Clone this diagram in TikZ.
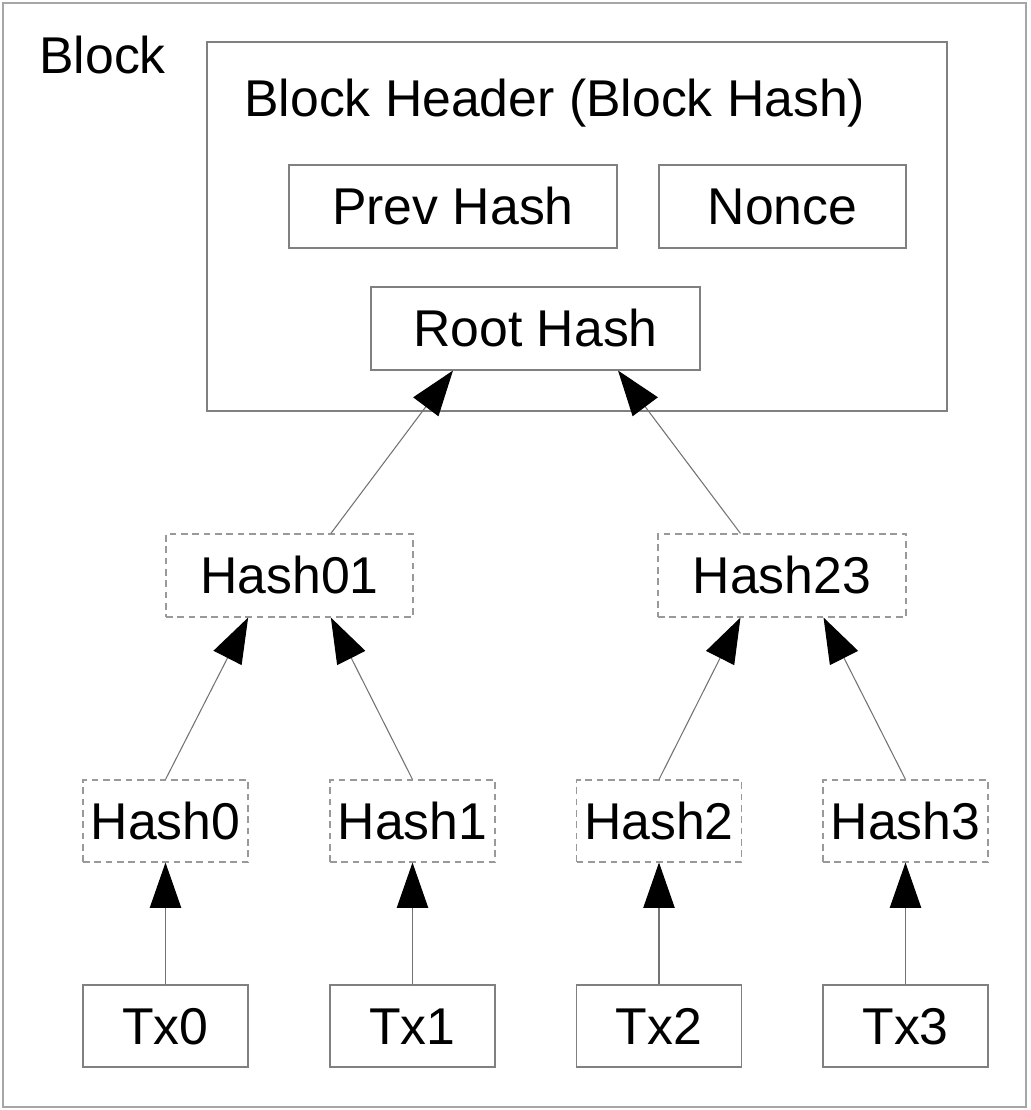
\documentclass[tikz,border=0pt]{standalone}
\usepackage{fontspec}
\setmainfont{Liberation Sans}
\usetikzlibrary{arrows.meta,calc}
\begin{document}
\begin{tikzpicture}[x=0.75pt,y=-0.75pt,
  lbl/.style={font=\fontsize{38.8}{40}\selectfont, text=black, text height=27.5pt, text depth=0pt, inner sep=0pt},
  solidbox/.style={lbl, draw=black!50, line width=0.8pt, rectangle},
  dashbox/.style={lbl, draw=black!40, line width=0.8pt, dash pattern=on 5pt off 3.5pt, rectangle},
  arr/.style={draw=black!55, line width=0.8pt, -{Triangle[length=34pt,width=23.5pt,color=black]}, shorten >=0pt}
]
\useasboundingbox (0,0) rectangle (1031,1110);
% outer block frame
\node[draw=black!35, line width=1.1pt, minimum width=1023*0.75pt, minimum height=1104*0.75pt, inner sep=0pt] (block) at (514.5,555) {};
\node[lbl, anchor=base west] (blocklbl) at (39,73) {Block};
% header
\node[draw=black!50, line width=0.8pt, minimum width=740*0.75pt, minimum height=369*0.75pt, inner sep=0pt] (header) at (577,226.5) {};
\node[lbl, anchor=base west] (headerlbl) at (244,116) {Block Header (Block Hash)};
\node[solidbox, minimum width=328*0.75pt, minimum height=83*0.75pt] (prev) at (453,206.5) {Prev Hash};
\node[solidbox, minimum width=247*0.75pt, minimum height=83*0.75pt] (nonce) at (782.5,206.5) {Nonce};
\node[solidbox, minimum width=329*0.75pt, minimum height=83*0.75pt] (root) at (535.5,328.5) {Root Hash};
% level 1
\node[dashbox, minimum width=247*0.75pt, minimum height=83*0.75pt] (h01) at (289.5,575.5) {Hash01};
\node[dashbox, minimum width=248*0.75pt, minimum height=83*0.75pt] (h23) at (782,575.5) {Hash23};
% level 2
\node[dashbox, minimum width=165*0.75pt, minimum height=82*0.75pt] (h0) at (165.5,821) {Hash0};
\node[dashbox, minimum width=165*0.75pt, minimum height=82*0.75pt] (h1) at (412.5,821) {Hash1};
\node[dashbox, minimum width=165*0.75pt, minimum height=82*0.75pt] (h2) at (659,821) {Hash2};
\node[dashbox, minimum width=165*0.75pt, minimum height=82*0.75pt] (h3) at (905.5,821) {Hash3};
% transactions
\node[solidbox, minimum width=165*0.75pt, minimum height=82*0.75pt] (tx0) at (165.5,1026) {Tx0};
\node[solidbox, minimum width=165*0.75pt, minimum height=82*0.75pt] (tx1) at (412.5,1026) {Tx1};
\node[solidbox, minimum width=165*0.75pt, minimum height=82*0.75pt] (tx2) at (659,1026) {Tx2};
\node[solidbox, minimum width=165*0.75pt, minimum height=82*0.75pt] (tx3) at (905.5,1026) {Tx3};
% connectors
\draw[arr] (tx0.north) -- (h0.south);
\draw[arr] (tx1.north) -- (h1.south);
\draw[arr] (tx2.north) -- (h2.south);
\draw[arr] (tx3.north) -- (h3.south);
\draw[arr] (h0.north) -- ($(h01.south west)!0.3333!(h01.south east)$);
\draw[arr] (h1.north) -- ($(h01.south west)!0.6667!(h01.south east)$);
\draw[arr] (h2.north) -- ($(h23.south west)!0.3333!(h23.south east)$);
\draw[arr] (h3.north) -- ($(h23.south west)!0.6667!(h23.south east)$);
\draw[arr] ($(h01.north west)!0.6667!(h01.north east)$) -- ($(root.south west)!0.25!(root.south east)$);
\draw[arr] ($(h23.north west)!0.3333!(h23.north east)$) -- ($(root.south west)!0.75!(root.south east)$);
\end{tikzpicture}
\end{document}
